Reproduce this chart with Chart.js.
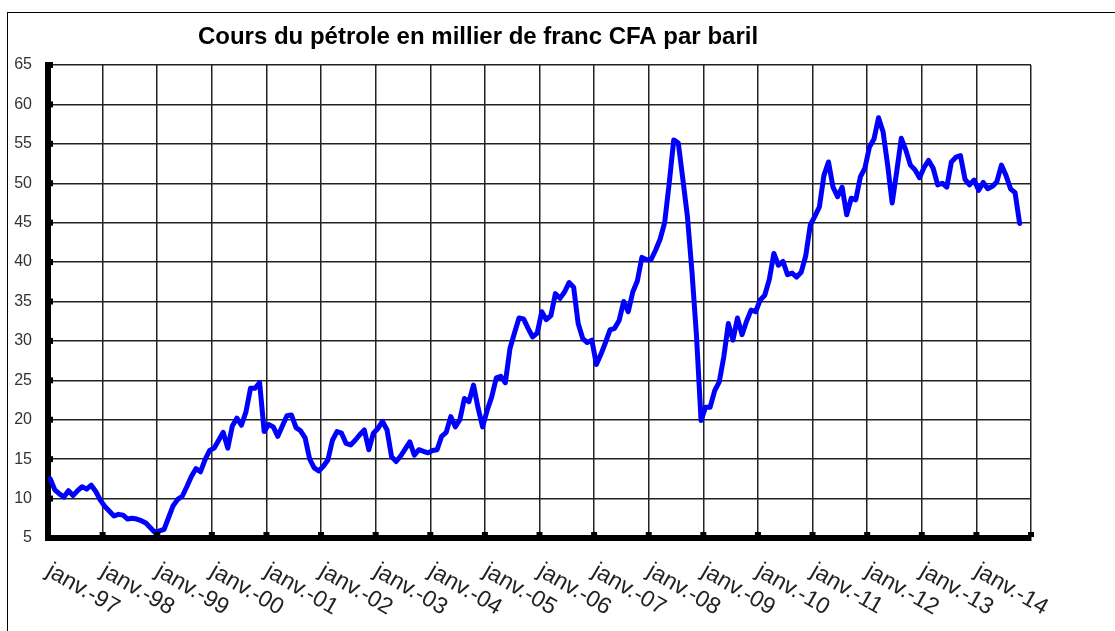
<!DOCTYPE html>
<html>
<head>
<meta charset="utf-8">
<script src="https://cdn.jsdelivr.net/npm/chart.js"></script>
<style>
  html, body { margin: 0; padding: 0; background: #fff; }
  #wrap { width: 1115px; height: 631px; position: relative; }
</style>
</head>
<body>
<div id="wrap"><canvas id="graphique" width="1115" height="631"></canvas></div>
<script>
// Titre et libellés
const titre = 'Cours du pétrole en millier de franc CFA par baril';
const annees = ['97', '98', '99', '00', '01', '02', '03', '04', '05', '06', '07', '08', '09', '10', '11', '12', '13', '14'];

// Cours mensuel (milliers FCFA / baril), janv. 1997 -> oct. 2014
const prix1997 = [12.5, 11.1, 10.6, 10.2, 11.0, 10.4, 11.0, 11.5, 11.2, 11.7, 10.9, 9.8];
const prix1998 = [9.0, 8.4, 7.8, 8.0, 7.9, 7.4, 7.5, 7.4, 7.2, 6.9, 6.3, 5.7];
const prix1999 = [5.9, 6.1, 7.6, 9.1, 9.9, 10.3, 11.5, 12.8, 13.8, 13.4, 14.9, 16.1];
const prix2000 = [16.4, 17.4, 18.4, 16.4, 19.2, 20.2, 19.3, 21.0, 24.0, 24.0, 24.7, 18.5];
const prix2001 = [19.4, 19.1, 17.9, 19.2, 20.5, 20.6, 19.0, 18.6, 17.7, 15.0, 13.9, 13.5];
const prix2002 = [14.1, 14.9, 17.4, 18.5, 18.3, 17.0, 16.8, 17.4, 18.1, 18.7, 16.2, 18.3];
const prix2003 = [18.9, 19.8, 18.7, 15.3, 14.7, 15.4, 16.3, 17.2, 15.5, 16.2, 16.0, 15.8];
const prix2004 = [16.1, 16.2, 17.9, 18.4, 20.4, 19.1, 20.0, 22.7, 22.3, 24.4, 21.5, 19.1];
const prix2005 = [21.2, 22.9, 25.3, 25.5, 24.7, 29.0, 31.0, 32.9, 32.8, 31.6, 30.5, 31.0];
const prix2006 = [33.7, 32.7, 33.2, 36.0, 35.4, 36.2, 37.4, 36.8, 32.2, 30.3, 29.8, 30.1];
const prix2007 = [27.0, 28.3, 29.8, 31.4, 31.6, 32.6, 35.0, 33.7, 36.2, 37.6, 40.6, 40.3];
const prix2008 = [40.3, 41.5, 42.9, 45.0, 50.0, 55.5, 55.1, 50.5, 45.8, 38.8, 30.6, 19.9];
const prix2009 = [21.6, 21.6, 23.7, 24.8, 28.0, 32.2, 30.1, 32.9, 30.8, 32.5, 33.9, 33.7];
const prix2010 = [35.2, 35.8, 37.8, 41.1, 39.6, 40.1, 38.4, 38.6, 38.1, 38.7, 40.8, 44.7];
const prix2011 = [45.8, 47.0, 51.0, 52.7, 49.5, 48.3, 49.5, 46.0, 48.1, 47.9, 50.8, 51.9];
const prix2012 = [54.6, 55.6, 58.3, 56.5, 52.3, 47.5, 51.5, 55.7, 54.2, 52.3, 51.7, 50.7];
const prix2013 = [52.0, 52.9, 51.9, 49.8, 50.0, 49.5, 52.7, 53.3, 53.5, 50.5, 49.8, 50.4];
const prix2014 = [49.1, 50.1, 49.3, 49.6, 50.2, 52.3, 51.0, 49.3, 48.8, 44.9];

const prix = [].concat(prix1997, prix1998, prix1999, prix2000, prix2001, prix2002,
    prix2003, prix2004, prix2005, prix2006, prix2007, prix2008, prix2009, prix2010,
    prix2011, prix2012, prix2013, prix2014);

const police = '"Liberation Sans", Arial, sans-serif';
const gris = '#222';

// Dessin du cadre, du titre, des graduations et des libellés de dates
const decor = {
    id: 'decor',
    afterDraw(chart) {
        const ctx = chart.ctx;
        const xs = chart.scales.x;
        const ys = chart.scales.y;
        const area = chart.chartArea;
        ctx.save();

        // cadre
        ctx.strokeStyle = '#000';
        ctx.lineWidth = 1;
        ctx.strokeRect(7.5, 12.5, 1300, 800);

        // titre
        ctx.fillStyle = '#000';
        ctx.font = 'bold 24px ' + police;
        ctx.textAlign = 'center';
        ctx.textBaseline = 'alphabetic';
        ctx.fillText(titre, 478, 44);

        // petites marques sur les axes
        ctx.fillStyle = '#000';
        ys.ticks.forEach(t => {
            const y = ys.getPixelForValue(t.value);
            ctx.fillRect(area.left, y - 3, 5, 6);
        });
        xs.ticks.forEach(t => {
            const x = xs.getPixelForValue(t.value);
            ctx.fillRect(x - 3, area.bottom - 6, 6, 5);
        });

        // libellés de dates inclinés
        ctx.fillStyle = gris;
        ctx.font = '23px ' + police;
        ctx.textAlign = 'left';
        annees.forEach((a, i) => {
            const x = xs.getPixelForValue(i * 12);
            ctx.save();
            ctx.translate(x - 3, 575);
            ctx.rotate(30 * Math.PI / 180);
            ctx.fillText('janv.-' + a, 0, 0);
            ctx.restore();
        });
        ctx.restore();
    }
};

new Chart(document.getElementById('graphique'), {
    type: 'line',
    data: {
        datasets: [{
            data: prix.map((v, i) => ({ x: i + 0.5, y: v })),
            borderColor: '#0000ff',
            borderWidth: 5,
            pointRadius: 0,
            tension: 0,
            borderJoinStyle: 'round',
            borderCapStyle: 'round'
        }]
    },
    options: {
        responsive: false,
        animation: false,
        layout: { padding: { left: 0, top: 65, right: 84, bottom: 93 } },
        plugins: { legend: { display: false }, tooltip: { enabled: false }, title: { display: false } },
        scales: {
            x: {
                type: 'linear',
                min: 0,
                max: 216,
                afterFit(scale) { scale.height = 0; },
                ticks: { stepSize: 12, display: false },
                grid: { color: gris, lineWidth: 1.5, drawTicks: false },
                border: { display: true, color: '#000', width: 6 }
            },
            y: {
                min: 5,
                max: 65,
                afterFit(scale) { scale.width = 48; },
                ticks: {
                    stepSize: 5,
                    padding: 16,
                    color: '#333',
                    font: { family: police, size: 16 }
                },
                grid: { color: gris, lineWidth: 1.5, drawTicks: false },
                border: { display: true, color: '#000', width: 6 }
            }
        }
    },
    plugins: [decor]
});
</script>
</body>
</html>
